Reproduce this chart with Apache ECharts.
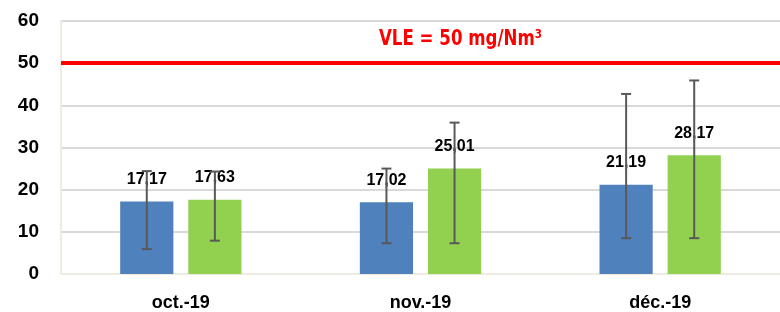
<!DOCTYPE html>
<html>
<head>
<meta charset="utf-8">
<script src="https://cdn.jsdelivr.net/npm/echarts@6/dist/echarts.min.js"></script>
<style>
  html, body { margin: 0; padding: 0; background: #fff; }
  #chart { width: 780px; height: 312px; }
</style>
</head>
<body>
<div id="chart"></div>
<script>
// months
var categories = ['oct.-19', 'nov.-19', 'déc.-19'];
// bar values
var blueValues = [17.17, 17.02, 21.19];
var greenValues = [17.63, 25.01, 28.17];
// error bar ends (low, high)
var blueLow = [5.9, 7.3, 8.5];
var blueHigh = [24.4, 25.0, 42.7];
var greenLow = [7.9, 7.3, 8.5];
var greenHigh = [24.3, 35.9, 45.9];
var vle = 50;

var chart = echarts.init(document.getElementById('chart'));

// builds the whisker series for one bar series
function errorSeries(low, high, idx) {
    var data = [];
    for (var i = 0; i < categories.length; i++) {
        data.push([i, low[i], high[i]]);
    }
    return {
        type: 'custom',
        z: 5,
        silent: true,
        data: data,
        renderItem: function (params, api) {
            var i = api.value(0);
            var lo = api.coord([i, api.value(1)]);
            var hi = api.coord([i, api.value(2)]);
            var bw = api.size([1, 0])[0];
            // bar width 22% of band, gap 28% of bar
            var barW = bw * 0.222;
            var gap = barW * 0.28;
            var off = (barW + gap) / 2;
            var x = lo[0] + (idx === 0 ? -off : off);
            var half = 5;
            var style = {stroke: '#595959', lineWidth: 2};
            return {
                type: 'group',
                children: [
                    {type: 'line', shape: {x1: x, y1: lo[1], x2: x, y2: hi[1]}, style: style},
                    {type: 'line', shape: {x1: x - half, y1: lo[1], x2: x + half, y2: lo[1]}, style: style},
                    {type: 'line', shape: {x1: x - half, y1: hi[1], x2: x + half, y2: hi[1]}, style: style}
                ]
            };
        }
    };
}

var labelStyle = {
    show: true,
    position: 'top',
    distance: 14,
    color: '#000',
    fontWeight: 'bold',
    fontSize: 16,
    fontFamily: 'Liberation Sans',
    formatter: function (p) { return p.value.toFixed(2).replace('.', ','); }
};

var option = {
    animation: false,
    graphic: [{
        type: 'text',
        left: 379,
        top: 28,
        scaleX: 0.84,
        style: {
            text: 'VLE = 50 mg/Nm³',
            fill: '#ff0000',
            fontSize: 22,
            fontWeight: 'bold',
            fontFamily: 'DejaVu Sans Condensed'
        }
    }],
    grid: {left: 61, top: 21, width: 723, height: 255, containLabel: false},
    xAxis: {
        type: 'category',
        data: categories,
        axisTick: {show: false},
        axisLine: {lineStyle: {color: '#eeece1', width: 2}},
        axisLabel: {
            color: '#000',
            fontWeight: 'bold',
            fontSize: 18,
            fontFamily: 'Liberation Sans',
            margin: 20
        }
    },
    yAxis: {
        type: 'value',
        min: 0,
        max: 60,
        interval: 10,
        axisLine: {show: true, lineStyle: {color: '#eeece1', width: 2}},
        axisTick: {show: false},
        splitLine: {lineStyle: {color: '#d9d9d9', width: 2}},
        axisLabel: {
            color: '#000',
            fontWeight: 'bold',
            fontSize: 19,
            fontFamily: 'Liberation Sans',
            margin: 22
        }
    },
    series: [
        {
            type: 'bar',
            data: blueValues,
            barWidth: '22.2%',
            barGap: '28%',
            itemStyle: {color: '#4f81bd'},
            label: labelStyle,
            markLine: {
                silent: true,
                symbol: 'none',
                label: {show: false},
                lineStyle: {color: '#ff0000', width: 4, type: 'solid'},
                data: [{yAxis: vle}]
            }
        },
        {
            type: 'bar',
            data: greenValues,
            barWidth: '22.2%',
            itemStyle: {color: '#92d050'},
            label: labelStyle
        },
        errorSeries(blueLow, blueHigh, 0),
        errorSeries(greenLow, greenHigh, 1)
    ]
};
chart.setOption(option);
</script>
</body>
</html>
